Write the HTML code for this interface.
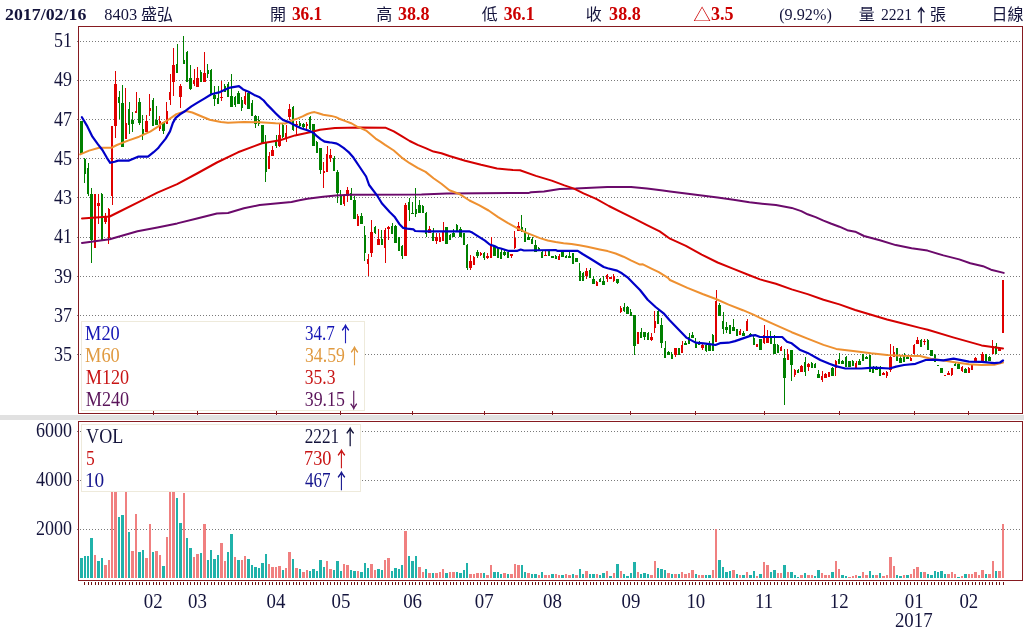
<!DOCTYPE html><html><head><meta charset="utf-8"><title>8403 盛弘 日線</title><style>html,body{margin:0;padding:0;background:#fff;}body{width:1024px;height:630px;overflow:hidden;position:relative;}svg{display:block;}text{font-family:"Liberation Serif","Noto Sans CJK TC",serif;}.cjk{font-family:"Liberation Serif","Noto Sans CJK TC",sans-serif;}</style></head><body>
<svg width="1024" height="630" viewBox="0 0 1024 630">
<rect x="0" y="0" width="1024" height="630" fill="#fff"/>
<rect x="0" y="415" width="1024" height="5" fill="#e1e1e1"/>
<g stroke="#7a7a7a" stroke-width="1" stroke-dasharray="1 2" shape-rendering="crispEdges"><line x1="77" y1="41.5" x2="1022" y2="41.5"/><line x1="77" y1="80.5" x2="1022" y2="80.5"/><line x1="77" y1="119.5" x2="1022" y2="119.5"/><line x1="77" y1="158.5" x2="1022" y2="158.5"/><line x1="77" y1="197.5" x2="1022" y2="197.5"/><line x1="77" y1="237.5" x2="1022" y2="237.5"/><line x1="77" y1="276.5" x2="1022" y2="276.5"/><line x1="77" y1="315.5" x2="1022" y2="315.5"/><line x1="77" y1="354.5" x2="1022" y2="354.5"/></g>
<g stroke="#7a7a7a" stroke-width="1" stroke-dasharray="1 2" shape-rendering="crispEdges"><line x1="77" y1="431.5" x2="1022" y2="431.5"/><line x1="77" y1="480.5" x2="1022" y2="480.5"/><line x1="77" y1="529.5" x2="1022" y2="529.5"/></g>
<g shape-rendering="crispEdges">
<g fill="#008000"><rect x="81" y="121" width="1" height="33"/><rect x="80" y="121" width="3" height="33"/><rect x="84" y="158" width="1" height="25"/><rect x="84" y="159" width="2" height="15"/><rect x="88" y="163" width="1" height="33"/><rect x="87" y="168" width="2" height="26"/><rect x="91" y="188" width="1" height="75"/><rect x="90" y="194" width="3" height="46"/><rect x="101" y="193" width="1" height="47"/><rect x="101" y="194" width="2" height="46"/><rect x="119" y="91" width="1" height="28"/><rect x="118" y="97" width="2" height="6"/><rect x="122" y="85" width="1" height="62"/><rect x="121" y="103" width="3" height="44"/><rect x="129" y="102" width="1" height="32"/><rect x="128" y="109" width="2" height="16"/><rect x="132" y="112" width="1" height="20"/><rect x="131" y="120" width="3" height="4"/><rect x="139" y="98" width="1" height="27"/><rect x="138" y="102" width="3" height="21"/><rect x="142" y="115" width="1" height="25"/><rect x="142" y="129" width="2" height="5"/><rect x="153" y="98" width="1" height="28"/><rect x="152" y="100" width="2" height="26"/><rect x="156" y="106" width="1" height="19"/><rect x="155" y="120" width="3" height="5"/><rect x="163" y="122" width="1" height="12"/><rect x="162" y="122" width="3" height="9"/><rect x="177" y="44" width="1" height="29"/><rect x="176" y="64" width="2" height="9"/><rect x="183" y="36" width="1" height="28"/><rect x="183" y="60" width="2" height="4"/><rect x="187" y="51" width="1" height="31"/><rect x="186" y="52" width="2" height="30"/><rect x="190" y="65" width="1" height="25"/><rect x="189" y="78" width="3" height="11"/><rect x="200" y="70" width="1" height="12"/><rect x="200" y="72" width="2" height="10"/><rect x="207" y="64" width="1" height="14"/><rect x="207" y="70" width="2" height="4"/><rect x="211" y="69" width="1" height="25"/><rect x="210" y="70" width="2" height="24"/><rect x="214" y="86" width="1" height="20"/><rect x="213" y="95" width="3" height="4"/><rect x="218" y="86" width="1" height="18"/><rect x="217" y="98" width="2" height="6"/><rect x="224" y="84" width="1" height="8"/><rect x="224" y="86" width="2" height="6"/><rect x="228" y="82" width="1" height="15"/><rect x="227" y="84" width="2" height="13"/><rect x="231" y="74" width="1" height="33"/><rect x="230" y="96" width="3" height="11"/><rect x="235" y="96" width="1" height="11"/><rect x="234" y="97" width="2" height="8"/><rect x="238" y="91" width="1" height="13"/><rect x="237" y="93" width="3" height="11"/><rect x="241" y="97" width="1" height="14"/><rect x="241" y="100" width="2" height="8"/><rect x="248" y="92" width="1" height="17"/><rect x="247" y="93" width="3" height="16"/><rect x="252" y="100" width="1" height="16"/><rect x="251" y="103" width="2" height="13"/><rect x="255" y="115" width="1" height="13"/><rect x="254" y="116" width="3" height="8"/><rect x="258" y="116" width="1" height="10"/><rect x="258" y="120" width="2" height="4"/><rect x="262" y="125" width="1" height="18"/><rect x="261" y="125" width="3" height="18"/><rect x="265" y="135" width="1" height="47"/><rect x="265" y="142" width="2" height="30"/><rect x="276" y="135" width="1" height="13"/><rect x="275" y="140" width="2" height="6"/><rect x="282" y="123" width="1" height="15"/><rect x="282" y="125" width="2" height="12"/><rect x="293" y="106" width="1" height="25"/><rect x="292" y="107" width="2" height="23"/><rect x="299" y="121" width="1" height="6"/><rect x="299" y="123" width="2" height="3"/><rect x="303" y="123" width="1" height="7"/><rect x="302" y="124" width="3" height="3"/><rect x="310" y="116" width="1" height="14"/><rect x="309" y="117" width="2" height="12"/><rect x="313" y="124" width="1" height="22"/><rect x="312" y="124" width="3" height="22"/><rect x="316" y="141" width="1" height="12"/><rect x="316" y="142" width="2" height="11"/><rect x="320" y="148" width="1" height="26"/><rect x="319" y="148" width="3" height="22"/><rect x="334" y="156" width="1" height="15"/><rect x="333" y="158" width="2" height="13"/><rect x="337" y="170" width="1" height="33"/><rect x="336" y="172" width="3" height="21"/><rect x="340" y="190" width="1" height="15"/><rect x="340" y="195" width="2" height="10"/><rect x="351" y="188" width="1" height="12"/><rect x="350" y="193" width="2" height="7"/><rect x="354" y="196" width="1" height="23"/><rect x="353" y="200" width="3" height="19"/><rect x="361" y="213" width="1" height="11"/><rect x="360" y="216" width="3" height="8"/><rect x="364" y="226" width="1" height="35"/><rect x="364" y="235" width="2" height="18"/><rect x="375" y="226" width="1" height="8"/><rect x="374" y="227" width="2" height="6"/><rect x="381" y="230" width="1" height="15"/><rect x="381" y="239" width="2" height="6"/><rect x="392" y="223" width="1" height="11"/><rect x="391" y="226" width="2" height="8"/><rect x="395" y="225" width="1" height="18"/><rect x="394" y="226" width="3" height="17"/><rect x="398" y="237" width="1" height="14"/><rect x="398" y="237" width="2" height="14"/><rect x="402" y="245" width="1" height="14"/><rect x="401" y="246" width="2" height="10"/><rect x="409" y="198" width="1" height="23"/><rect x="408" y="202" width="2" height="8"/><rect x="412" y="202" width="1" height="12"/><rect x="411" y="213" width="3" height="1"/><rect x="415" y="188" width="1" height="29"/><rect x="415" y="209" width="2" height="5"/><rect x="419" y="200" width="1" height="13"/><rect x="418" y="205" width="3" height="8"/><rect x="422" y="205" width="1" height="8"/><rect x="422" y="206" width="2" height="7"/><rect x="426" y="212" width="1" height="25"/><rect x="425" y="213" width="2" height="21"/><rect x="433" y="228" width="1" height="13"/><rect x="432" y="233" width="2" height="8"/><rect x="446" y="227" width="1" height="17"/><rect x="445" y="227" width="3" height="17"/><rect x="450" y="234" width="1" height="6"/><rect x="449" y="235" width="2" height="5"/><rect x="453" y="229" width="1" height="8"/><rect x="452" y="233" width="3" height="4"/><rect x="456" y="224" width="1" height="7"/><rect x="456" y="225" width="2" height="6"/><rect x="460" y="227" width="1" height="10"/><rect x="459" y="229" width="3" height="8"/><rect x="463" y="233" width="1" height="12"/><rect x="463" y="233" width="2" height="12"/><rect x="467" y="244" width="1" height="26"/><rect x="466" y="245" width="2" height="23"/><rect x="477" y="250" width="1" height="8"/><rect x="476" y="252" width="3" height="4"/><rect x="484" y="252" width="1" height="8"/><rect x="483" y="253" width="2" height="5"/><rect x="494" y="246" width="1" height="10"/><rect x="493" y="247" width="3" height="9"/><rect x="497" y="248" width="1" height="10"/><rect x="497" y="249" width="2" height="9"/><rect x="501" y="249" width="1" height="10"/><rect x="500" y="252" width="2" height="7"/><rect x="504" y="250" width="1" height="6"/><rect x="503" y="252" width="3" height="3"/><rect x="508" y="252" width="1" height="6"/><rect x="507" y="252" width="2" height="6"/><rect x="521" y="215" width="1" height="17"/><rect x="521" y="227" width="2" height="5"/><rect x="525" y="228" width="1" height="14"/><rect x="524" y="232" width="2" height="10"/><rect x="528" y="234" width="1" height="6"/><rect x="527" y="237" width="3" height="3"/><rect x="532" y="237" width="1" height="7"/><rect x="531" y="239" width="2" height="5"/><rect x="535" y="240" width="1" height="12"/><rect x="534" y="245" width="3" height="7"/><rect x="538" y="247" width="1" height="4"/><rect x="538" y="248" width="2" height="3"/><rect x="542" y="251" width="1" height="7"/><rect x="541" y="252" width="2" height="6"/><rect x="549" y="250" width="1" height="6"/><rect x="548" y="251" width="2" height="5"/><rect x="552" y="256" width="1" height="2"/><rect x="551" y="256" width="3" height="2"/><rect x="555" y="255" width="1" height="4"/><rect x="555" y="256" width="2" height="3"/><rect x="562" y="252" width="1" height="5"/><rect x="561" y="252" width="3" height="5"/><rect x="566" y="255" width="1" height="3"/><rect x="565" y="256" width="2" height="2"/><rect x="569" y="252" width="1" height="6"/><rect x="568" y="256" width="3" height="2"/><rect x="572" y="253" width="1" height="11"/><rect x="572" y="253" width="2" height="11"/><rect x="576" y="258" width="1" height="4"/><rect x="575" y="258" width="3" height="4"/><rect x="579" y="263" width="1" height="18"/><rect x="579" y="271" width="2" height="10"/><rect x="583" y="272" width="1" height="9"/><rect x="582" y="273" width="2" height="8"/><rect x="590" y="268" width="1" height="10"/><rect x="589" y="270" width="2" height="8"/><rect x="593" y="276" width="1" height="8"/><rect x="592" y="279" width="3" height="5"/><rect x="600" y="278" width="1" height="4"/><rect x="599" y="279" width="2" height="3"/><rect x="603" y="276" width="1" height="9"/><rect x="602" y="281" width="3" height="4"/><rect x="617" y="279" width="1" height="5"/><rect x="616" y="279" width="3" height="4"/><rect x="624" y="303" width="1" height="9"/><rect x="623" y="307" width="2" height="4"/><rect x="627" y="306" width="1" height="8"/><rect x="626" y="307" width="3" height="7"/><rect x="630" y="309" width="1" height="7"/><rect x="630" y="312" width="2" height="4"/><rect x="634" y="315" width="1" height="40"/><rect x="633" y="315" width="3" height="31"/><rect x="641" y="328" width="1" height="10"/><rect x="640" y="332" width="2" height="6"/><rect x="644" y="332" width="1" height="8"/><rect x="643" y="332" width="3" height="5"/><rect x="648" y="332" width="1" height="8"/><rect x="647" y="333" width="2" height="7"/><rect x="658" y="310" width="1" height="14"/><rect x="657" y="311" width="2" height="13"/><rect x="661" y="318" width="1" height="30"/><rect x="660" y="325" width="3" height="18"/><rect x="665" y="341" width="1" height="17"/><rect x="664" y="348" width="2" height="10"/><rect x="668" y="351" width="1" height="4"/><rect x="667" y="352" width="3" height="3"/><rect x="671" y="352" width="1" height="7"/><rect x="671" y="354" width="2" height="5"/><rect x="678" y="348" width="1" height="7"/><rect x="678" y="348" width="2" height="7"/><rect x="685" y="341" width="1" height="4"/><rect x="684" y="343" width="3" height="2"/><rect x="689" y="333" width="1" height="11"/><rect x="688" y="337" width="2" height="7"/><rect x="692" y="332" width="1" height="6"/><rect x="691" y="335" width="3" height="3"/><rect x="695" y="338" width="1" height="10"/><rect x="695" y="342" width="2" height="6"/><rect x="699" y="341" width="1" height="4"/><rect x="698" y="343" width="2" height="2"/><rect x="706" y="344" width="1" height="8"/><rect x="705" y="345" width="2" height="6"/><rect x="709" y="341" width="1" height="10"/><rect x="708" y="345" width="3" height="6"/><rect x="712" y="334" width="1" height="17"/><rect x="712" y="335" width="2" height="16"/><rect x="719" y="303" width="1" height="13"/><rect x="718" y="305" width="3" height="11"/><rect x="723" y="312" width="1" height="22"/><rect x="722" y="321" width="2" height="8"/><rect x="726" y="322" width="1" height="11"/><rect x="725" y="327" width="3" height="3"/><rect x="729" y="325" width="1" height="9"/><rect x="729" y="325" width="2" height="9"/><rect x="733" y="319" width="1" height="12"/><rect x="732" y="327" width="3" height="4"/><rect x="736" y="329" width="1" height="7"/><rect x="736" y="329" width="2" height="7"/><rect x="743" y="331" width="1" height="5"/><rect x="742" y="333" width="3" height="3"/><rect x="750" y="333" width="1" height="3"/><rect x="749" y="334" width="3" height="2"/><rect x="753" y="336" width="1" height="9"/><rect x="753" y="338" width="2" height="7"/><rect x="760" y="339" width="1" height="11"/><rect x="759" y="339" width="3" height="11"/><rect x="770" y="331" width="1" height="13"/><rect x="770" y="336" width="2" height="8"/><rect x="774" y="335" width="1" height="19"/><rect x="773" y="344" width="3" height="10"/><rect x="777" y="344" width="1" height="9"/><rect x="777" y="345" width="2" height="8"/><rect x="784" y="349" width="1" height="56"/><rect x="783" y="358" width="3" height="20"/><rect x="791" y="350" width="1" height="31"/><rect x="790" y="350" width="3" height="15"/><rect x="798" y="369" width="1" height="4"/><rect x="797" y="370" width="2" height="3"/><rect x="805" y="357" width="1" height="19"/><rect x="804" y="362" width="2" height="10"/><rect x="811" y="362" width="1" height="6"/><rect x="811" y="363" width="2" height="5"/><rect x="815" y="363" width="1" height="5"/><rect x="814" y="364" width="2" height="4"/><rect x="818" y="370" width="1" height="8"/><rect x="817" y="374" width="3" height="4"/><rect x="832" y="367" width="1" height="9"/><rect x="831" y="368" width="3" height="8"/><rect x="839" y="353" width="1" height="11"/><rect x="838" y="359" width="2" height="5"/><rect x="842" y="360" width="1" height="4"/><rect x="841" y="361" width="3" height="3"/><rect x="846" y="356" width="1" height="11"/><rect x="845" y="357" width="2" height="10"/><rect x="849" y="361" width="1" height="6"/><rect x="848" y="361" width="3" height="6"/><rect x="852" y="360" width="1" height="6"/><rect x="852" y="361" width="2" height="5"/><rect x="859" y="359" width="1" height="6"/><rect x="858" y="361" width="3" height="4"/><rect x="863" y="354" width="1" height="7"/><rect x="862" y="354" width="2" height="7"/><rect x="866" y="356" width="1" height="3"/><rect x="865" y="357" width="3" height="2"/><rect x="869" y="355" width="1" height="17"/><rect x="869" y="355" width="2" height="17"/><rect x="873" y="366" width="1" height="7"/><rect x="872" y="368" width="2" height="5"/><rect x="876" y="366" width="1" height="4"/><rect x="875" y="368" width="3" height="2"/><rect x="880" y="366" width="1" height="10"/><rect x="879" y="367" width="2" height="9"/><rect x="897" y="348" width="1" height="13"/><rect x="896" y="348" width="2" height="13"/><rect x="900" y="355" width="1" height="8"/><rect x="899" y="358" width="3" height="5"/><rect x="904" y="353" width="1" height="9"/><rect x="903" y="356" width="2" height="6"/><rect x="907" y="355" width="1" height="4"/><rect x="906" y="357" width="3" height="2"/><rect x="921" y="339" width="1" height="8"/><rect x="920" y="340" width="2" height="7"/><rect x="927" y="339" width="1" height="11"/><rect x="927" y="340" width="2" height="10"/><rect x="931" y="350" width="1" height="6"/><rect x="930" y="350" width="3" height="6"/><rect x="934" y="354" width="1" height="8"/><rect x="934" y="355" width="2" height="7"/><rect x="938" y="365" width="1" height="1"/><rect x="937" y="365" width="2" height="1"/><rect x="941" y="368" width="1" height="5"/><rect x="940" y="368" width="3" height="5"/><rect x="955" y="363" width="1" height="3"/><rect x="954" y="364" width="2" height="2"/><rect x="958" y="363" width="1" height="6"/><rect x="957" y="364" width="3" height="5"/><rect x="965" y="368" width="1" height="5"/><rect x="964" y="369" width="3" height="4"/><rect x="985" y="354" width="1" height="8"/><rect x="985" y="354" width="2" height="8"/><rect x="989" y="356" width="1" height="5"/><rect x="988" y="357" width="3" height="4"/><rect x="996" y="343" width="1" height="11"/><rect x="995" y="346" width="2" height="8"/></g>
<g fill="#e00000"><rect x="95" y="194" width="1" height="54"/><rect x="94" y="194" width="2" height="54"/><rect x="98" y="194" width="1" height="30"/><rect x="97" y="203" width="3" height="3"/><rect x="105" y="213" width="1" height="11"/><rect x="104" y="217" width="3" height="5"/><rect x="108" y="208" width="1" height="36"/><rect x="108" y="209" width="2" height="29"/><rect x="112" y="126" width="1" height="79"/><rect x="111" y="126" width="2" height="70"/><rect x="115" y="71" width="1" height="67"/><rect x="114" y="84" width="3" height="42"/><rect x="125" y="88" width="1" height="51"/><rect x="125" y="123" width="2" height="16"/><rect x="136" y="92" width="1" height="21"/><rect x="135" y="111" width="2" height="2"/><rect x="146" y="115" width="1" height="17"/><rect x="145" y="121" width="3" height="11"/><rect x="149" y="94" width="1" height="22"/><rect x="149" y="108" width="2" height="3"/><rect x="159" y="116" width="1" height="15"/><rect x="159" y="121" width="2" height="8"/><rect x="166" y="102" width="1" height="22"/><rect x="166" y="111" width="2" height="13"/><rect x="170" y="74" width="1" height="31"/><rect x="169" y="92" width="2" height="8"/><rect x="173" y="48" width="1" height="48"/><rect x="172" y="65" width="3" height="17"/><rect x="180" y="84" width="1" height="24"/><rect x="179" y="86" width="3" height="11"/><rect x="194" y="69" width="1" height="17"/><rect x="193" y="80" width="2" height="4"/><rect x="197" y="67" width="1" height="20"/><rect x="196" y="78" width="3" height="9"/><rect x="204" y="52" width="1" height="30"/><rect x="203" y="73" width="3" height="9"/><rect x="221" y="81" width="1" height="20"/><rect x="220" y="97" width="3" height="1"/><rect x="245" y="91" width="1" height="14"/><rect x="244" y="96" width="2" height="8"/><rect x="269" y="152" width="1" height="17"/><rect x="268" y="156" width="2" height="13"/><rect x="272" y="146" width="1" height="10"/><rect x="271" y="150" width="3" height="6"/><rect x="279" y="124" width="1" height="23"/><rect x="278" y="135" width="3" height="11"/><rect x="286" y="125" width="1" height="17"/><rect x="285" y="133" width="2" height="6"/><rect x="289" y="104" width="1" height="16"/><rect x="288" y="109" width="3" height="8"/><rect x="296" y="121" width="1" height="14"/><rect x="295" y="124" width="3" height="1"/><rect x="306" y="122" width="1" height="8"/><rect x="306" y="124" width="2" height="2"/><rect x="323" y="162" width="1" height="26"/><rect x="323" y="171" width="2" height="2"/><rect x="327" y="146" width="1" height="26"/><rect x="326" y="154" width="2" height="18"/><rect x="330" y="149" width="1" height="13"/><rect x="329" y="155" width="3" height="3"/><rect x="344" y="194" width="1" height="12"/><rect x="343" y="196" width="2" height="8"/><rect x="347" y="187" width="1" height="15"/><rect x="346" y="190" width="3" height="6"/><rect x="357" y="214" width="1" height="12"/><rect x="357" y="216" width="2" height="10"/><rect x="368" y="254" width="1" height="22"/><rect x="367" y="259" width="2" height="5"/><rect x="371" y="220" width="1" height="37"/><rect x="370" y="232" width="3" height="21"/><rect x="378" y="229" width="1" height="16"/><rect x="377" y="239" width="3" height="6"/><rect x="385" y="228" width="1" height="35"/><rect x="384" y="230" width="2" height="18"/><rect x="388" y="226" width="1" height="14"/><rect x="387" y="227" width="3" height="2"/><rect x="405" y="203" width="1" height="53"/><rect x="404" y="205" width="3" height="51"/><rect x="429" y="226" width="1" height="7"/><rect x="428" y="229" width="3" height="4"/><rect x="436" y="233" width="1" height="11"/><rect x="435" y="237" width="3" height="4"/><rect x="439" y="233" width="1" height="9"/><rect x="439" y="237" width="2" height="5"/><rect x="443" y="222" width="1" height="19"/><rect x="442" y="232" width="2" height="9"/><rect x="470" y="255" width="1" height="15"/><rect x="469" y="261" width="3" height="7"/><rect x="473" y="256" width="1" height="9"/><rect x="473" y="257" width="2" height="8"/><rect x="480" y="252" width="1" height="4"/><rect x="480" y="253" width="2" height="2"/><rect x="487" y="253" width="1" height="6"/><rect x="486" y="256" width="3" height="2"/><rect x="491" y="237" width="1" height="21"/><rect x="490" y="245" width="2" height="13"/><rect x="511" y="254" width="1" height="4"/><rect x="510" y="254" width="3" height="2"/><rect x="514" y="231" width="1" height="18"/><rect x="514" y="238" width="2" height="10"/><rect x="518" y="222" width="1" height="9"/><rect x="517" y="226" width="3" height="5"/><rect x="545" y="251" width="1" height="5"/><rect x="544" y="255" width="3" height="1"/><rect x="559" y="254" width="1" height="6"/><rect x="558" y="256" width="2" height="4"/><rect x="586" y="268" width="1" height="11"/><rect x="585" y="271" width="3" height="5"/><rect x="596" y="281" width="1" height="5"/><rect x="596" y="282" width="2" height="4"/><rect x="607" y="274" width="1" height="8"/><rect x="606" y="275" width="2" height="4"/><rect x="610" y="277" width="1" height="2"/><rect x="609" y="277" width="3" height="2"/><rect x="613" y="274" width="1" height="8"/><rect x="613" y="276" width="2" height="5"/><rect x="620" y="306" width="1" height="7"/><rect x="620" y="308" width="2" height="4"/><rect x="637" y="332" width="1" height="12"/><rect x="637" y="332" width="2" height="12"/><rect x="651" y="333" width="1" height="8"/><rect x="650" y="337" width="3" height="3"/><rect x="654" y="311" width="1" height="22"/><rect x="654" y="321" width="2" height="7"/><rect x="675" y="348" width="1" height="9"/><rect x="674" y="348" width="3" height="7"/><rect x="682" y="341" width="1" height="12"/><rect x="681" y="345" width="2" height="8"/><rect x="702" y="343" width="1" height="7"/><rect x="701" y="345" width="3" height="3"/><rect x="716" y="290" width="1" height="52"/><rect x="715" y="301" width="2" height="41"/><rect x="740" y="329" width="1" height="6"/><rect x="739" y="331" width="2" height="4"/><rect x="747" y="319" width="1" height="12"/><rect x="746" y="321" width="2" height="10"/><rect x="757" y="344" width="1" height="3"/><rect x="756" y="344" width="2" height="3"/><rect x="764" y="325" width="1" height="19"/><rect x="763" y="335" width="2" height="8"/><rect x="767" y="330" width="1" height="13"/><rect x="766" y="337" width="3" height="6"/><rect x="781" y="346" width="1" height="5"/><rect x="780" y="347" width="2" height="4"/><rect x="787" y="349" width="1" height="11"/><rect x="787" y="354" width="2" height="6"/><rect x="794" y="369" width="1" height="8"/><rect x="794" y="370" width="2" height="5"/><rect x="801" y="365" width="1" height="7"/><rect x="800" y="366" width="3" height="6"/><rect x="808" y="363" width="1" height="8"/><rect x="807" y="364" width="3" height="3"/><rect x="822" y="371" width="1" height="11"/><rect x="821" y="376" width="2" height="4"/><rect x="825" y="373" width="1" height="5"/><rect x="824" y="374" width="3" height="4"/><rect x="828" y="372" width="1" height="5"/><rect x="828" y="372" width="2" height="5"/><rect x="835" y="360" width="1" height="16"/><rect x="835" y="361" width="2" height="7"/><rect x="856" y="361" width="1" height="7"/><rect x="855" y="363" width="2" height="5"/><rect x="883" y="372" width="1" height="3"/><rect x="882" y="373" width="3" height="2"/><rect x="886" y="371" width="1" height="7"/><rect x="886" y="372" width="2" height="4"/><rect x="890" y="344" width="1" height="28"/><rect x="889" y="357" width="3" height="13"/><rect x="893" y="346" width="1" height="11"/><rect x="893" y="352" width="2" height="5"/><rect x="910" y="357" width="1" height="4"/><rect x="910" y="358" width="2" height="3"/><rect x="914" y="344" width="1" height="10"/><rect x="913" y="345" width="2" height="9"/><rect x="917" y="337" width="1" height="7"/><rect x="916" y="340" width="3" height="4"/><rect x="924" y="339" width="1" height="6"/><rect x="923" y="341" width="3" height="1"/><rect x="944" y="375" width="1" height="1"/><rect x="944" y="375" width="2" height="1"/><rect x="948" y="371" width="1" height="4"/><rect x="947" y="373" width="3" height="2"/><rect x="951" y="368" width="1" height="8"/><rect x="951" y="368" width="2" height="7"/><rect x="962" y="366" width="1" height="6"/><rect x="961" y="367" width="2" height="4"/><rect x="968" y="367" width="1" height="6"/><rect x="968" y="368" width="2" height="5"/><rect x="972" y="364" width="1" height="6"/><rect x="971" y="365" width="2" height="5"/><rect x="975" y="357" width="1" height="5"/><rect x="974" y="358" width="3" height="4"/><rect x="979" y="361" width="1" height="2"/><rect x="978" y="361" width="2" height="2"/><rect x="982" y="352" width="1" height="10"/><rect x="981" y="354" width="3" height="8"/><rect x="992" y="340" width="1" height="14"/><rect x="992" y="346" width="2" height="8"/><rect x="999" y="347" width="1" height="4"/><rect x="998" y="348" width="3" height="3"/><rect x="1003" y="280" width="1" height="53"/><rect x="1002" y="280" width="2" height="53"/></g>
</g>
<polyline points="82.0,242.9 109.7,239.3 137.5,231.3 157.4,227.4 177.2,223.4 197.0,218.5 216.9,213.5 228.0,213.0 243.9,208.3 259.7,205.1 275.6,203.5 291.5,201.9 299.4,200.3 307.4,198.7 323.2,196.8 335.9,195.6 350.0,194.7 421.5,194.5 446.9,193.4 529.0,192.9 531.0,192.2 544.0,191.6 559.7,188.9 575.6,188.6 591.4,187.8 607.3,187.0 631.1,187.0 647.0,188.6 662.9,190.5 670.0,191.4 685.9,193.5 701.7,195.4 717.6,197.5 733.5,199.8 749.4,202.2 760.0,203.5 775.9,205.1 791.7,207.9 801.3,211.1 807.6,214.3 815.6,217.1 823.5,220.6 831.4,223.8 839.4,226.7 847.3,230.2 855.2,231.7 864.0,236.0 879.9,240.3 895.7,245.1 911.6,248.3 927.5,250.6 943.4,255.4 959.2,259.4 970.3,263.3 983.0,266.2 991.0,269.7 1003.7,272.9" fill="none" stroke="#6b0a6b" stroke-width="2" stroke-linejoin="round" stroke-linecap="round"/>
<polyline points="82.0,218.5 109.7,216.5 117.7,212.5 137.5,202.6 157.4,192.7 177.2,184.2 197.0,173.5 216.9,162.5 238.0,152.3 262.0,143.2 280.0,140.2 295.0,135.4 310.0,132.2 320.0,129.8 335.0,127.9 360.0,127.5 385.9,127.8 393.8,131.4 401.7,136.2 409.7,141.0 417.6,144.9 425.6,148.1 433.5,151.6 441.4,153.2 449.4,156.0 465.2,160.8 481.1,164.8 497.0,168.4 512.9,170.0 520.0,170.3 535.9,175.9 551.7,180.6 564.4,185.4 574.0,188.6 583.5,193.3 596.2,198.9 608.9,206.0 621.6,212.4 634.3,218.7 647.0,225.1 659.7,231.4 670.0,238.7 685.9,245.9 701.7,254.6 717.6,262.5 733.5,268.9 749.4,275.2 760.0,279.4 775.9,283.8 791.7,289.4 807.6,294.1 823.5,299.7 839.4,304.4 855.2,310.0 871.1,314.8 887.0,319.5 902.9,323.5 920.0,327.9 927.8,329.8 953.1,337.4 981.6,345.4 990.4,346.7 1003.0,348.4" fill="none" stroke="#d40000" stroke-width="2" stroke-linejoin="round" stroke-linecap="round"/>
<polyline points="80.2,154.4 89.1,150.6 99.1,147.8 111.3,147.8 116.9,145.0 128.0,140.6 139.1,136.7 150.2,131.7 158.0,126.7 160.5,124.3 168.0,120.0 176.4,114.1 185.9,111.0 192.3,112.5 201.8,116.5 209.7,119.7 220.9,122.0 228.0,122.7 243.9,121.9 259.7,122.2 275.6,123.2 285.1,123.5 288.3,122.2 293.1,120.0 297.8,118.4 302.6,116.3 307.4,114.0 312.1,112.4 314.5,112.1 318.5,113.2 323.2,114.8 331.2,115.9 335.9,117.1 339.1,118.7 345.5,121.1 351.8,123.5 356.6,126.3 361.3,128.3 366.1,130.6 370.9,134.6 375.6,138.6 380.4,141.7 385.1,144.9 393.8,150.5 401.7,157.6 409.7,163.2 417.6,167.9 425.6,171.9 433.5,178.3 441.4,183.8 449.4,190.2 460.0,194.3 469.5,200.5 479.0,205.2 488.6,210.5 498.1,217.1 507.6,222.9 517.1,228.1 526.7,232.9 540.0,238.1 547.7,240.5 555.6,242.1 563.6,243.2 571.5,244.1 579.4,245.2 587.4,246.8 599.7,249.5 607.6,251.1 615.6,253.5 623.5,256.7 631.4,260.6 640.0,264.6 642.9,264.3 650.9,268.3 658.8,272.2 668.0,277.8 669.9,280.0 687.4,287.9 703.2,294.3 715.9,299.0 728.6,304.6 742.9,310.2 754.0,314.9 760.0,317.9 775.9,325.1 791.7,332.2 807.6,338.6 823.5,344.9 836.2,348.9 855.2,351.3 871.1,353.3 887.0,354.9 902.9,355.7 920.0,356.0 930.8,358.7 943.5,360.6 956.2,362.5 968.9,364.2 981.6,365.1 994.3,364.7 1003.0,362.6" fill="none" stroke="#ee9030" stroke-width="2" stroke-linejoin="round" stroke-linecap="round"/>
<polyline points="81.9,117.2 86.9,125.6 92.4,136.7 98.0,144.4 102.4,150.0 106.9,157.8 110.2,162.8 114.7,161.7 118.0,160.6 129.1,160.6 138.0,156.7 148.0,156.7 153.6,152.2 158.0,148.3 160.0,145.7 165.7,138.6 170.0,131.4 172.9,122.9 175.7,117.9 180.0,114.3 185.7,110.7 191.4,106.4 197.1,102.9 204.3,98.6 211.4,94.3 220.0,92.1 228.8,87.9 239.0,86.2 243.1,89.4 248.6,91.7 254.2,94.9 259.7,97.3 263.7,100.5 266.9,104.4 270.9,108.4 275.6,113.2 280.4,117.9 283.6,120.3 287.5,121.6 291.5,123.5 296.3,125.9 301.0,128.3 305.8,129.8 310.5,131.4 313.7,133.0 316.9,136.2 320.9,139.4 324.8,141.7 329.6,142.4 331.2,142.5 335.9,143.3 337.5,144.0 339.1,144.9 343.9,148.1 345.5,149.5 348.6,152.1 353.4,157.5 353.4,157.6 359.7,167.0 366.1,176.5 369.1,185.0 377.0,195.3 381.8,203.3 389.7,212.0 394.5,216.7 399.3,223.9 403.2,227.9 407.2,228.7 413.6,229.4 415.1,231.0 424.7,231.3 469.1,231.3 472.3,232.6 478.6,236.6 485.0,240.6 489.7,244.5 494.5,246.1 497.7,247.7 500.9,248.5 508.0,250.8 517.5,250.8 520.7,249.5 523.9,250.5 555.6,250.0 557.2,250.8 577.8,250.8 582.6,254.0 590.5,258.7 596.9,262.7 603.7,267.0 607.6,268.2 617.1,270.6 621.9,273.3 627.5,277.3 633.8,283.7 640.0,290.0 647.7,299.8 655.6,307.0 663.6,313.3 669.4,320.0 678.1,328.9 686.8,337.9 695.6,342.6 703.5,343.3 709.8,344.2 715.4,345.0 720.0,343.2 728.6,342.7 735.0,341.1 744.5,337.9 750.9,335.6 755.6,335.2 760.0,337.0 782.2,337.0 787.0,341.7 791.7,343.3 799.7,349.7 807.6,352.9 820.3,360.0 829.4,363.7 835.8,366.1 845.3,368.5 861.2,368.5 873.9,367.7 889.7,368.5 896.1,366.6 904.0,365.0 915.5,363.8 925.7,360.0 933.3,359.6 943.5,360.4 953.6,358.7 958.7,359.6 968.9,361.6 981.6,361.9 994.3,363.2 1000.0,362.5 1003.0,360.5" fill="none" stroke="#0000c8" stroke-width="2.2" stroke-linejoin="round" stroke-linecap="round"/>
<g shape-rendering="crispEdges">
<g fill="#20b2aa"><rect x="80" y="558" width="3" height="20"/><rect x="84" y="556" width="2" height="22"/><rect x="87" y="556" width="2" height="22"/><rect x="90" y="538" width="3" height="40"/><rect x="97" y="561" width="3" height="17"/><rect x="101" y="558" width="2" height="20"/><rect x="118" y="517" width="2" height="61"/><rect x="121" y="515" width="3" height="63"/><rect x="128" y="532" width="2" height="46"/><rect x="138" y="552" width="3" height="26"/><rect x="142" y="550" width="2" height="28"/><rect x="152" y="552" width="2" height="26"/><rect x="162" y="566" width="3" height="12"/><rect x="176" y="498" width="2" height="80"/><rect x="179" y="523" width="3" height="55"/><rect x="186" y="538" width="2" height="40"/><rect x="189" y="548" width="3" height="30"/><rect x="200" y="553" width="2" height="25"/><rect x="207" y="560" width="2" height="18"/><rect x="210" y="550" width="2" height="28"/><rect x="213" y="559" width="3" height="19"/><rect x="217" y="555" width="2" height="23"/><rect x="227" y="552" width="2" height="26"/><rect x="230" y="534" width="3" height="44"/><rect x="237" y="560" width="3" height="18"/><rect x="247" y="559" width="3" height="19"/><rect x="251" y="565" width="2" height="13"/><rect x="254" y="567" width="3" height="11"/><rect x="258" y="568" width="2" height="10"/><rect x="261" y="563" width="3" height="15"/><rect x="265" y="554" width="2" height="24"/><rect x="282" y="570" width="2" height="8"/><rect x="292" y="559" width="2" height="19"/><rect x="299" y="569" width="2" height="9"/><rect x="309" y="571" width="2" height="7"/><rect x="312" y="569" width="3" height="9"/><rect x="316" y="571" width="2" height="7"/><rect x="319" y="560" width="3" height="18"/><rect x="323" y="567" width="2" height="11"/><rect x="333" y="570" width="2" height="8"/><rect x="336" y="561" width="3" height="17"/><rect x="340" y="571" width="2" height="7"/><rect x="350" y="570" width="2" height="8"/><rect x="353" y="571" width="3" height="7"/><rect x="360" y="572" width="3" height="6"/><rect x="364" y="563" width="2" height="15"/><rect x="367" y="568" width="2" height="10"/><rect x="377" y="569" width="3" height="9"/><rect x="381" y="570" width="2" height="8"/><rect x="391" y="571" width="2" height="7"/><rect x="394" y="568" width="3" height="10"/><rect x="398" y="569" width="2" height="9"/><rect x="401" y="565" width="2" height="13"/><rect x="408" y="556" width="2" height="22"/><rect x="411" y="561" width="3" height="17"/><rect x="415" y="556" width="2" height="22"/><rect x="425" y="569" width="2" height="9"/><rect x="432" y="573" width="2" height="5"/><rect x="445" y="573" width="3" height="5"/><rect x="456" y="572" width="2" height="6"/><rect x="459" y="573" width="3" height="5"/><rect x="463" y="570" width="2" height="8"/><rect x="466" y="563" width="2" height="15"/><rect x="483" y="573" width="2" height="5"/><rect x="493" y="572" width="3" height="6"/><rect x="497" y="572" width="2" height="6"/><rect x="500" y="574" width="2" height="4"/><rect x="507" y="574" width="2" height="4"/><rect x="521" y="565" width="2" height="13"/><rect x="524" y="572" width="2" height="6"/><rect x="531" y="574" width="2" height="4"/><rect x="534" y="574" width="3" height="4"/><rect x="541" y="572" width="2" height="6"/><rect x="551" y="574" width="3" height="4"/><rect x="561" y="575" width="3" height="3"/><rect x="572" y="574" width="2" height="4"/><rect x="579" y="569" width="2" height="9"/><rect x="582" y="574" width="2" height="4"/><rect x="589" y="574" width="2" height="4"/><rect x="592" y="574" width="3" height="4"/><rect x="599" y="575" width="2" height="3"/><rect x="602" y="573" width="3" height="5"/><rect x="609" y="576" width="3" height="2"/><rect x="616" y="564" width="3" height="14"/><rect x="623" y="574" width="2" height="4"/><rect x="626" y="576" width="3" height="2"/><rect x="630" y="573" width="2" height="5"/><rect x="633" y="562" width="3" height="16"/><rect x="640" y="574" width="2" height="4"/><rect x="643" y="573" width="3" height="5"/><rect x="647" y="574" width="2" height="4"/><rect x="657" y="568" width="2" height="10"/><rect x="660" y="569" width="3" height="9"/><rect x="664" y="570" width="2" height="8"/><rect x="671" y="574" width="2" height="4"/><rect x="678" y="574" width="2" height="4"/><rect x="695" y="574" width="2" height="4"/><rect x="705" y="575" width="2" height="3"/><rect x="708" y="575" width="3" height="3"/><rect x="718" y="560" width="3" height="18"/><rect x="722" y="567" width="2" height="11"/><rect x="725" y="572" width="3" height="6"/><rect x="729" y="571" width="2" height="7"/><rect x="736" y="574" width="2" height="4"/><rect x="742" y="575" width="3" height="3"/><rect x="749" y="575" width="3" height="3"/><rect x="753" y="571" width="2" height="7"/><rect x="759" y="574" width="3" height="4"/><rect x="770" y="572" width="2" height="6"/><rect x="773" y="570" width="3" height="8"/><rect x="783" y="565" width="3" height="13"/><rect x="790" y="572" width="3" height="6"/><rect x="794" y="575" width="2" height="3"/><rect x="797" y="577" width="2" height="1"/><rect x="804" y="573" width="2" height="5"/><rect x="814" y="576" width="2" height="2"/><rect x="817" y="570" width="3" height="8"/><rect x="831" y="572" width="3" height="6"/><rect x="841" y="575" width="3" height="3"/><rect x="845" y="576" width="2" height="2"/><rect x="858" y="576" width="3" height="2"/><rect x="869" y="571" width="2" height="7"/><rect x="872" y="575" width="2" height="3"/><rect x="879" y="573" width="2" height="5"/><rect x="896" y="575" width="2" height="3"/><rect x="899" y="576" width="3" height="2"/><rect x="906" y="575" width="3" height="3"/><rect x="920" y="572" width="2" height="6"/><rect x="927" y="574" width="2" height="4"/><rect x="930" y="575" width="3" height="3"/><rect x="934" y="571" width="2" height="7"/><rect x="937" y="572" width="2" height="6"/><rect x="940" y="571" width="3" height="7"/><rect x="944" y="574" width="2" height="4"/><rect x="957" y="577" width="3" height="1"/><rect x="964" y="574" width="3" height="4"/><rect x="985" y="574" width="2" height="4"/><rect x="995" y="571" width="2" height="7"/></g>
<g fill="#f08080"><rect x="94" y="555" width="2" height="23"/><rect x="104" y="565" width="3" height="13"/><rect x="108" y="560" width="2" height="18"/><rect x="111" y="480" width="2" height="98"/><rect x="114" y="480" width="3" height="98"/><rect x="125" y="480" width="2" height="98"/><rect x="131" y="551" width="3" height="27"/><rect x="135" y="514" width="2" height="64"/><rect x="145" y="558" width="3" height="20"/><rect x="149" y="524" width="2" height="54"/><rect x="155" y="551" width="3" height="27"/><rect x="159" y="555" width="2" height="23"/><rect x="166" y="537" width="2" height="41"/><rect x="169" y="480" width="2" height="98"/><rect x="172" y="480" width="3" height="98"/><rect x="183" y="493" width="2" height="85"/><rect x="193" y="557" width="2" height="21"/><rect x="196" y="554" width="3" height="24"/><rect x="203" y="524" width="3" height="54"/><rect x="220" y="543" width="3" height="35"/><rect x="224" y="561" width="2" height="17"/><rect x="234" y="557" width="2" height="21"/><rect x="241" y="560" width="2" height="18"/><rect x="244" y="556" width="2" height="22"/><rect x="268" y="564" width="2" height="14"/><rect x="271" y="567" width="3" height="11"/><rect x="275" y="567" width="2" height="11"/><rect x="278" y="566" width="3" height="12"/><rect x="285" y="568" width="2" height="10"/><rect x="288" y="552" width="3" height="26"/><rect x="295" y="568" width="3" height="10"/><rect x="302" y="572" width="3" height="6"/><rect x="306" y="570" width="2" height="8"/><rect x="326" y="561" width="2" height="17"/><rect x="329" y="569" width="3" height="9"/><rect x="343" y="564" width="2" height="14"/><rect x="346" y="565" width="3" height="13"/><rect x="357" y="571" width="2" height="7"/><rect x="370" y="564" width="3" height="14"/><rect x="374" y="570" width="2" height="8"/><rect x="384" y="560" width="2" height="18"/><rect x="387" y="558" width="3" height="20"/><rect x="404" y="531" width="3" height="47"/><rect x="418" y="567" width="3" height="11"/><rect x="422" y="572" width="2" height="6"/><rect x="428" y="573" width="3" height="5"/><rect x="435" y="573" width="3" height="5"/><rect x="439" y="572" width="2" height="6"/><rect x="442" y="569" width="2" height="9"/><rect x="449" y="572" width="2" height="6"/><rect x="452" y="572" width="3" height="6"/><rect x="469" y="574" width="3" height="4"/><rect x="473" y="574" width="2" height="4"/><rect x="476" y="573" width="3" height="5"/><rect x="480" y="573" width="2" height="5"/><rect x="486" y="575" width="3" height="3"/><rect x="490" y="565" width="2" height="13"/><rect x="503" y="573" width="3" height="5"/><rect x="510" y="574" width="3" height="4"/><rect x="514" y="564" width="2" height="14"/><rect x="517" y="565" width="3" height="13"/><rect x="527" y="573" width="3" height="5"/><rect x="538" y="575" width="2" height="3"/><rect x="544" y="575" width="3" height="3"/><rect x="548" y="575" width="2" height="3"/><rect x="555" y="574" width="2" height="4"/><rect x="558" y="575" width="2" height="3"/><rect x="565" y="574" width="2" height="4"/><rect x="568" y="575" width="3" height="3"/><rect x="575" y="575" width="3" height="3"/><rect x="585" y="571" width="3" height="7"/><rect x="596" y="574" width="2" height="4"/><rect x="606" y="571" width="2" height="7"/><rect x="613" y="573" width="2" height="5"/><rect x="620" y="571" width="2" height="7"/><rect x="637" y="572" width="2" height="6"/><rect x="650" y="575" width="3" height="3"/><rect x="654" y="561" width="2" height="17"/><rect x="667" y="573" width="3" height="5"/><rect x="674" y="574" width="3" height="4"/><rect x="681" y="572" width="2" height="6"/><rect x="684" y="574" width="3" height="4"/><rect x="688" y="573" width="2" height="5"/><rect x="691" y="570" width="3" height="8"/><rect x="698" y="575" width="2" height="3"/><rect x="701" y="575" width="3" height="3"/><rect x="712" y="570" width="2" height="8"/><rect x="715" y="529" width="2" height="49"/><rect x="732" y="570" width="3" height="8"/><rect x="739" y="575" width="2" height="3"/><rect x="746" y="572" width="2" height="6"/><rect x="756" y="576" width="2" height="2"/><rect x="763" y="562" width="2" height="16"/><rect x="766" y="565" width="3" height="13"/><rect x="777" y="573" width="2" height="5"/><rect x="780" y="573" width="2" height="5"/><rect x="787" y="572" width="2" height="6"/><rect x="800" y="575" width="3" height="3"/><rect x="807" y="575" width="3" height="3"/><rect x="811" y="575" width="2" height="3"/><rect x="821" y="573" width="2" height="5"/><rect x="824" y="575" width="3" height="3"/><rect x="828" y="575" width="2" height="3"/><rect x="835" y="561" width="2" height="17"/><rect x="838" y="569" width="2" height="9"/><rect x="848" y="577" width="3" height="1"/><rect x="852" y="576" width="2" height="2"/><rect x="855" y="575" width="2" height="3"/><rect x="862" y="572" width="2" height="6"/><rect x="865" y="575" width="3" height="3"/><rect x="875" y="575" width="3" height="3"/><rect x="882" y="576" width="3" height="2"/><rect x="886" y="575" width="2" height="3"/><rect x="889" y="557" width="3" height="21"/><rect x="893" y="566" width="2" height="12"/><rect x="903" y="575" width="2" height="3"/><rect x="910" y="574" width="2" height="4"/><rect x="913" y="569" width="2" height="9"/><rect x="916" y="567" width="3" height="11"/><rect x="923" y="572" width="3" height="6"/><rect x="947" y="574" width="3" height="4"/><rect x="951" y="572" width="2" height="6"/><rect x="954" y="574" width="2" height="4"/><rect x="961" y="576" width="2" height="2"/><rect x="968" y="574" width="2" height="4"/><rect x="971" y="574" width="2" height="4"/><rect x="974" y="572" width="3" height="6"/><rect x="978" y="575" width="2" height="3"/><rect x="981" y="570" width="3" height="8"/><rect x="988" y="574" width="3" height="4"/><rect x="992" y="561" width="2" height="17"/><rect x="998" y="571" width="3" height="7"/><rect x="1002" y="524" width="2" height="54"/></g>
<g fill="#6e1010"><rect x="84" y="582" width="1" height="3"/><rect x="88" y="582" width="1" height="3"/><rect x="91" y="582" width="1" height="3"/><rect x="95" y="582" width="1" height="3"/><rect x="98" y="582" width="1" height="3"/><rect x="101" y="582" width="1" height="3"/><rect x="105" y="582" width="1" height="3"/><rect x="108" y="582" width="1" height="3"/><rect x="112" y="582" width="1" height="3"/><rect x="115" y="582" width="1" height="3"/><rect x="119" y="582" width="1" height="3"/><rect x="122" y="582" width="1" height="3"/><rect x="125" y="582" width="1" height="3"/><rect x="129" y="582" width="1" height="3"/><rect x="132" y="582" width="1" height="3"/><rect x="136" y="582" width="1" height="3"/><rect x="139" y="582" width="1" height="3"/><rect x="142" y="582" width="1" height="3"/><rect x="146" y="582" width="1" height="3"/><rect x="149" y="582" width="1" height="3"/><rect x="153" y="582" width="1" height="3"/><rect x="156" y="582" width="1" height="3"/><rect x="159" y="582" width="1" height="3"/><rect x="163" y="582" width="1" height="3"/><rect x="166" y="582" width="1" height="3"/><rect x="170" y="582" width="1" height="3"/><rect x="173" y="582" width="1" height="3"/><rect x="177" y="582" width="1" height="3"/><rect x="180" y="582" width="1" height="3"/><rect x="183" y="582" width="1" height="3"/><rect x="187" y="582" width="1" height="3"/><rect x="190" y="582" width="1" height="3"/><rect x="194" y="582" width="1" height="3"/><rect x="197" y="582" width="1" height="3"/><rect x="200" y="582" width="1" height="3"/><rect x="204" y="582" width="1" height="3"/><rect x="207" y="582" width="1" height="3"/><rect x="211" y="582" width="1" height="3"/><rect x="214" y="582" width="1" height="3"/><rect x="218" y="582" width="1" height="3"/><rect x="221" y="582" width="1" height="3"/><rect x="224" y="582" width="1" height="3"/><rect x="228" y="582" width="1" height="3"/><rect x="231" y="582" width="1" height="3"/><rect x="235" y="582" width="1" height="3"/><rect x="238" y="582" width="1" height="3"/><rect x="241" y="582" width="1" height="3"/><rect x="245" y="582" width="1" height="3"/><rect x="248" y="582" width="1" height="3"/><rect x="252" y="582" width="1" height="3"/><rect x="255" y="582" width="1" height="3"/><rect x="258" y="582" width="1" height="3"/><rect x="262" y="582" width="1" height="3"/><rect x="265" y="582" width="1" height="3"/><rect x="269" y="582" width="1" height="3"/><rect x="272" y="582" width="1" height="3"/><rect x="276" y="582" width="1" height="3"/><rect x="279" y="582" width="1" height="3"/><rect x="282" y="582" width="1" height="3"/><rect x="286" y="582" width="1" height="3"/><rect x="289" y="582" width="1" height="3"/><rect x="293" y="582" width="1" height="3"/><rect x="296" y="582" width="1" height="3"/><rect x="299" y="582" width="1" height="3"/><rect x="303" y="582" width="1" height="3"/><rect x="306" y="582" width="1" height="3"/><rect x="310" y="582" width="1" height="3"/><rect x="313" y="582" width="1" height="3"/><rect x="316" y="582" width="1" height="3"/><rect x="320" y="582" width="1" height="3"/><rect x="323" y="582" width="1" height="3"/><rect x="327" y="582" width="1" height="3"/><rect x="330" y="582" width="1" height="3"/><rect x="334" y="582" width="1" height="3"/><rect x="337" y="582" width="1" height="3"/><rect x="340" y="582" width="1" height="3"/><rect x="344" y="582" width="1" height="3"/><rect x="347" y="582" width="1" height="3"/><rect x="351" y="582" width="1" height="3"/><rect x="354" y="582" width="1" height="3"/><rect x="357" y="582" width="1" height="3"/><rect x="361" y="582" width="1" height="3"/><rect x="364" y="582" width="1" height="3"/><rect x="368" y="582" width="1" height="3"/><rect x="371" y="582" width="1" height="3"/><rect x="375" y="582" width="1" height="3"/><rect x="378" y="582" width="1" height="3"/><rect x="381" y="582" width="1" height="3"/><rect x="385" y="582" width="1" height="3"/><rect x="388" y="582" width="1" height="3"/><rect x="392" y="582" width="1" height="3"/><rect x="395" y="582" width="1" height="3"/><rect x="398" y="582" width="1" height="3"/><rect x="402" y="582" width="1" height="3"/><rect x="405" y="582" width="1" height="3"/><rect x="409" y="582" width="1" height="3"/><rect x="412" y="582" width="1" height="3"/><rect x="415" y="582" width="1" height="3"/><rect x="419" y="582" width="1" height="3"/><rect x="422" y="582" width="1" height="3"/><rect x="426" y="582" width="1" height="3"/><rect x="429" y="582" width="1" height="3"/><rect x="433" y="582" width="1" height="3"/><rect x="436" y="582" width="1" height="3"/><rect x="439" y="582" width="1" height="3"/><rect x="443" y="582" width="1" height="3"/><rect x="446" y="582" width="1" height="3"/><rect x="450" y="582" width="1" height="3"/><rect x="453" y="582" width="1" height="3"/><rect x="456" y="582" width="1" height="3"/><rect x="460" y="582" width="1" height="3"/><rect x="463" y="582" width="1" height="3"/><rect x="467" y="582" width="1" height="3"/><rect x="470" y="582" width="1" height="3"/><rect x="473" y="582" width="1" height="3"/><rect x="477" y="582" width="1" height="3"/><rect x="480" y="582" width="1" height="3"/><rect x="484" y="582" width="1" height="3"/><rect x="487" y="582" width="1" height="3"/><rect x="491" y="582" width="1" height="3"/><rect x="494" y="582" width="1" height="3"/><rect x="497" y="582" width="1" height="3"/><rect x="501" y="582" width="1" height="3"/><rect x="504" y="582" width="1" height="3"/><rect x="508" y="582" width="1" height="3"/><rect x="511" y="582" width="1" height="3"/><rect x="514" y="582" width="1" height="3"/><rect x="518" y="582" width="1" height="3"/><rect x="521" y="582" width="1" height="3"/><rect x="525" y="582" width="1" height="3"/><rect x="528" y="582" width="1" height="3"/><rect x="532" y="582" width="1" height="3"/><rect x="535" y="582" width="1" height="3"/><rect x="538" y="582" width="1" height="3"/><rect x="542" y="582" width="1" height="3"/><rect x="545" y="582" width="1" height="3"/><rect x="549" y="582" width="1" height="3"/><rect x="552" y="582" width="1" height="3"/><rect x="555" y="582" width="1" height="3"/><rect x="559" y="582" width="1" height="3"/><rect x="562" y="582" width="1" height="3"/><rect x="566" y="582" width="1" height="3"/><rect x="569" y="582" width="1" height="3"/><rect x="572" y="582" width="1" height="3"/><rect x="576" y="582" width="1" height="3"/><rect x="579" y="582" width="1" height="3"/><rect x="583" y="582" width="1" height="3"/><rect x="586" y="582" width="1" height="3"/><rect x="590" y="582" width="1" height="3"/><rect x="593" y="582" width="1" height="3"/><rect x="596" y="582" width="1" height="3"/><rect x="600" y="582" width="1" height="3"/><rect x="603" y="582" width="1" height="3"/><rect x="607" y="582" width="1" height="3"/><rect x="610" y="582" width="1" height="3"/><rect x="613" y="582" width="1" height="3"/><rect x="617" y="582" width="1" height="3"/><rect x="620" y="582" width="1" height="3"/><rect x="624" y="582" width="1" height="3"/><rect x="627" y="582" width="1" height="3"/><rect x="630" y="582" width="1" height="3"/><rect x="634" y="582" width="1" height="3"/><rect x="637" y="582" width="1" height="3"/><rect x="641" y="582" width="1" height="3"/><rect x="644" y="582" width="1" height="3"/><rect x="648" y="582" width="1" height="3"/><rect x="651" y="582" width="1" height="3"/><rect x="654" y="582" width="1" height="3"/><rect x="658" y="582" width="1" height="3"/><rect x="661" y="582" width="1" height="3"/><rect x="665" y="582" width="1" height="3"/><rect x="668" y="582" width="1" height="3"/><rect x="671" y="582" width="1" height="3"/><rect x="675" y="582" width="1" height="3"/><rect x="678" y="582" width="1" height="3"/><rect x="682" y="582" width="1" height="3"/><rect x="685" y="582" width="1" height="3"/><rect x="689" y="582" width="1" height="3"/><rect x="692" y="582" width="1" height="3"/><rect x="695" y="582" width="1" height="3"/><rect x="699" y="582" width="1" height="3"/><rect x="702" y="582" width="1" height="3"/><rect x="706" y="582" width="1" height="3"/><rect x="709" y="582" width="1" height="3"/><rect x="712" y="582" width="1" height="3"/><rect x="716" y="582" width="1" height="3"/><rect x="719" y="582" width="1" height="3"/><rect x="723" y="582" width="1" height="3"/><rect x="726" y="582" width="1" height="3"/><rect x="729" y="582" width="1" height="3"/><rect x="733" y="582" width="1" height="3"/><rect x="736" y="582" width="1" height="3"/><rect x="740" y="582" width="1" height="3"/><rect x="743" y="582" width="1" height="3"/><rect x="747" y="582" width="1" height="3"/><rect x="750" y="582" width="1" height="3"/><rect x="753" y="582" width="1" height="3"/><rect x="757" y="582" width="1" height="3"/><rect x="760" y="582" width="1" height="3"/><rect x="764" y="582" width="1" height="3"/><rect x="767" y="582" width="1" height="3"/><rect x="770" y="582" width="1" height="3"/><rect x="774" y="582" width="1" height="3"/><rect x="777" y="582" width="1" height="3"/><rect x="781" y="582" width="1" height="3"/><rect x="784" y="582" width="1" height="3"/><rect x="787" y="582" width="1" height="3"/><rect x="791" y="582" width="1" height="3"/><rect x="794" y="582" width="1" height="3"/><rect x="798" y="582" width="1" height="3"/><rect x="801" y="582" width="1" height="3"/><rect x="805" y="582" width="1" height="3"/><rect x="808" y="582" width="1" height="3"/><rect x="811" y="582" width="1" height="3"/><rect x="815" y="582" width="1" height="3"/><rect x="818" y="582" width="1" height="3"/><rect x="822" y="582" width="1" height="3"/><rect x="825" y="582" width="1" height="3"/><rect x="828" y="582" width="1" height="3"/><rect x="832" y="582" width="1" height="3"/><rect x="835" y="582" width="1" height="3"/><rect x="839" y="582" width="1" height="3"/><rect x="842" y="582" width="1" height="3"/><rect x="846" y="582" width="1" height="3"/><rect x="849" y="582" width="1" height="3"/><rect x="852" y="582" width="1" height="3"/><rect x="856" y="582" width="1" height="3"/><rect x="859" y="582" width="1" height="3"/><rect x="863" y="582" width="1" height="3"/><rect x="866" y="582" width="1" height="3"/><rect x="869" y="582" width="1" height="3"/><rect x="873" y="582" width="1" height="3"/><rect x="876" y="582" width="1" height="3"/><rect x="880" y="582" width="1" height="3"/><rect x="883" y="582" width="1" height="3"/><rect x="886" y="582" width="1" height="3"/><rect x="890" y="582" width="1" height="3"/><rect x="893" y="582" width="1" height="3"/><rect x="897" y="582" width="1" height="3"/><rect x="900" y="582" width="1" height="3"/><rect x="904" y="582" width="1" height="3"/><rect x="907" y="582" width="1" height="3"/><rect x="910" y="582" width="1" height="3"/><rect x="914" y="582" width="1" height="3"/><rect x="917" y="582" width="1" height="3"/><rect x="921" y="582" width="1" height="3"/><rect x="924" y="582" width="1" height="3"/><rect x="927" y="582" width="1" height="3"/><rect x="931" y="582" width="1" height="3"/><rect x="934" y="582" width="1" height="3"/><rect x="938" y="582" width="1" height="3"/><rect x="941" y="582" width="1" height="3"/><rect x="944" y="582" width="1" height="3"/><rect x="948" y="582" width="1" height="3"/><rect x="951" y="582" width="1" height="3"/><rect x="955" y="582" width="1" height="3"/><rect x="958" y="582" width="1" height="3"/><rect x="962" y="582" width="1" height="3"/><rect x="965" y="582" width="1" height="3"/><rect x="968" y="582" width="1" height="3"/><rect x="972" y="582" width="1" height="3"/><rect x="975" y="582" width="1" height="3"/><rect x="979" y="582" width="1" height="3"/><rect x="982" y="582" width="1" height="3"/><rect x="985" y="582" width="1" height="3"/><rect x="989" y="582" width="1" height="3"/><rect x="992" y="582" width="1" height="3"/><rect x="996" y="582" width="1" height="3"/><rect x="999" y="582" width="1" height="3"/><rect x="1003" y="582" width="1" height="3"/></g>
</g>
<rect x="81.5" y="321.5" width="283" height="89" fill="#fff" stroke="#eeeadb" stroke-width="1"/>
<rect x="81.5" y="424.5" width="279" height="67" fill="#fff" stroke="#eeeadb" stroke-width="1"/>
<g fill="none" stroke="#861a20" stroke-width="1" shape-rendering="crispEdges"><rect x="78.5" y="26.5" width="944" height="387"/><rect x="78.5" y="421.5" width="944" height="159"/></g>
<g fill="#861a20" shape-rendering="crispEdges"><rect x="153" y="411" width="1" height="4"/><rect x="197" y="411" width="1" height="4"/><rect x="276" y="411" width="1" height="4"/><rect x="340" y="411" width="1" height="4"/><rect x="412" y="411" width="1" height="4"/><rect x="484" y="411" width="1" height="4"/><rect x="552" y="411" width="1" height="4"/><rect x="630" y="411" width="1" height="4"/><rect x="695" y="411" width="1" height="4"/><rect x="764" y="411" width="1" height="4"/><rect x="839" y="411" width="1" height="4"/><rect x="914" y="411" width="1" height="4"/><rect x="968" y="411" width="1" height="4"/></g>
<text x="4.99" y="20" font-size="17.7" fill="#14143c" font-weight="700" textLength="81.41" lengthAdjust="spacingAndGlyphs" style="font-family:'Liberation Serif',serif">2017/02/16</text><text x="104.37" y="20" font-size="16" fill="#14143c" textLength="32.85" lengthAdjust="spacingAndGlyphs" style="font-family:'Liberation Serif',serif">8403</text><text x="141.00" y="20" font-size="16" fill="#14143c" style="font-family:'Liberation Serif','Noto Sans CJK TC',sans-serif">盛弘</text><text x="270.00" y="20" font-size="16" fill="#14143c" style="font-family:'Liberation Serif','Noto Sans CJK TC',sans-serif">開</text><text x="291.94" y="20" font-size="18" fill="#cc0000" font-weight="700" textLength="30.35" lengthAdjust="spacingAndGlyphs" style="font-family:'Liberation Serif',serif">36.1</text><text x="376.20" y="20" font-size="16" fill="#14143c" style="font-family:'Liberation Serif','Noto Sans CJK TC',sans-serif">高</text><text x="398.00" y="20" font-size="18" fill="#cc0000" font-weight="700" textLength="31.61" lengthAdjust="spacingAndGlyphs" style="font-family:'Liberation Serif',serif">38.8</text><text x="481.80" y="20" font-size="16" fill="#14143c" style="font-family:'Liberation Serif','Noto Sans CJK TC',sans-serif">低</text><text x="503.72" y="20" font-size="18" fill="#cc0000" font-weight="700" textLength="30.87" lengthAdjust="spacingAndGlyphs" style="font-family:'Liberation Serif',serif">36.1</text><text x="585.80" y="20" font-size="16" fill="#14143c" style="font-family:'Liberation Serif','Noto Sans CJK TC',sans-serif">收</text><text x="609.10" y="20" font-size="18" fill="#cc0000" font-weight="700" textLength="31.61" lengthAdjust="spacingAndGlyphs" style="font-family:'Liberation Serif',serif">38.8</text><text x="693.16" y="20.5" font-size="17" fill="#cc0000" textLength="17.68" lengthAdjust="spacingAndGlyphs" style="font-family:'Liberation Serif','Noto Sans CJK TC',sans-serif">△</text><text x="711.00" y="20" font-size="18" fill="#cc0000" font-weight="700" textLength="22.50" lengthAdjust="spacingAndGlyphs" style="font-family:'Liberation Serif',serif">3.5</text><text x="779.19" y="20" font-size="16" fill="#14143c" textLength="52.61" lengthAdjust="spacingAndGlyphs" style="font-family:'Liberation Serif',serif">(9.92%)</text><text x="858.80" y="20" font-size="16" fill="#14143c" style="font-family:'Liberation Serif','Noto Sans CJK TC',sans-serif">量</text><text x="880.92" y="20" font-size="16" fill="#14143c" textLength="31.25" lengthAdjust="spacingAndGlyphs" style="font-family:'Liberation Serif',serif">2221</text><text x="914.57" y="21.5" font-size="17" fill="#14143c" textLength="13.36" lengthAdjust="spacingAndGlyphs" stroke="#14143c" stroke-width="0.7" style="font-family:'Noto Serif CJK SC',serif">↑</text><text x="930.00" y="20" font-size="16" fill="#14143c" style="font-family:'Liberation Serif','Noto Sans CJK TC',sans-serif">張</text><text x="991.50" y="20" font-size="16" fill="#14143c" style="font-family:'Liberation Serif','Noto Sans CJK TC',sans-serif">日線</text><text x="54.02" y="47.0" font-size="20.5" fill="#14143c" textLength="17.98" lengthAdjust="spacingAndGlyphs" style="font-family:'Liberation Serif',serif">51</text><text x="54.02" y="86.25" font-size="20.5" fill="#14143c" textLength="17.98" lengthAdjust="spacingAndGlyphs" style="font-family:'Liberation Serif',serif">49</text><text x="54.02" y="125.5" font-size="20.5" fill="#14143c" textLength="17.98" lengthAdjust="spacingAndGlyphs" style="font-family:'Liberation Serif',serif">47</text><text x="54.02" y="164.75" font-size="20.5" fill="#14143c" textLength="17.98" lengthAdjust="spacingAndGlyphs" style="font-family:'Liberation Serif',serif">45</text><text x="54.02" y="204.0" font-size="20.5" fill="#14143c" textLength="17.98" lengthAdjust="spacingAndGlyphs" style="font-family:'Liberation Serif',serif">43</text><text x="54.02" y="243.25" font-size="20.5" fill="#14143c" textLength="17.98" lengthAdjust="spacingAndGlyphs" style="font-family:'Liberation Serif',serif">41</text><text x="54.02" y="282.5" font-size="20.5" fill="#14143c" textLength="17.98" lengthAdjust="spacingAndGlyphs" style="font-family:'Liberation Serif',serif">39</text><text x="54.02" y="321.75" font-size="20.5" fill="#14143c" textLength="17.98" lengthAdjust="spacingAndGlyphs" style="font-family:'Liberation Serif',serif">37</text><text x="54.02" y="361.0" font-size="20.5" fill="#14143c" textLength="17.98" lengthAdjust="spacingAndGlyphs" style="font-family:'Liberation Serif',serif">35</text><text x="36.04" y="436.5" font-size="20.5" fill="#14143c" textLength="35.96" lengthAdjust="spacingAndGlyphs" style="font-family:'Liberation Serif',serif">6000</text><text x="36.04" y="485.5" font-size="20.5" fill="#14143c" textLength="35.96" lengthAdjust="spacingAndGlyphs" style="font-family:'Liberation Serif',serif">4000</text><text x="36.04" y="534.5" font-size="20.5" fill="#14143c" textLength="35.96" lengthAdjust="spacingAndGlyphs" style="font-family:'Liberation Serif',serif">2000</text><text x="143.74" y="608" font-size="20.5" fill="#14143c" textLength="18.86" lengthAdjust="spacingAndGlyphs" style="font-family:'Liberation Serif',serif">02</text><text x="188.11" y="608" font-size="20.5" fill="#14143c" textLength="18.86" lengthAdjust="spacingAndGlyphs" style="font-family:'Liberation Serif',serif">03</text><text x="266.61" y="608" font-size="20.5" fill="#14143c" textLength="18.86" lengthAdjust="spacingAndGlyphs" style="font-family:'Liberation Serif',serif">04</text><text x="331.46" y="608" font-size="20.5" fill="#14143c" textLength="18.86" lengthAdjust="spacingAndGlyphs" style="font-family:'Liberation Serif',serif">05</text><text x="403.13" y="608" font-size="20.5" fill="#14143c" textLength="18.86" lengthAdjust="spacingAndGlyphs" style="font-family:'Liberation Serif',serif">06</text><text x="474.80" y="608" font-size="20.5" fill="#14143c" textLength="18.86" lengthAdjust="spacingAndGlyphs" style="font-family:'Liberation Serif',serif">07</text><text x="543.06" y="608" font-size="20.5" fill="#14143c" textLength="18.86" lengthAdjust="spacingAndGlyphs" style="font-family:'Liberation Serif',serif">08</text><text x="621.56" y="608" font-size="20.5" fill="#14143c" textLength="18.86" lengthAdjust="spacingAndGlyphs" style="font-family:'Liberation Serif',serif">09</text><text x="686.41" y="608" font-size="20.5" fill="#14143c" textLength="18.86" lengthAdjust="spacingAndGlyphs" style="font-family:'Liberation Serif',serif">10</text><text x="755.01" y="608" font-size="20.5" fill="#14143c" textLength="18.17" lengthAdjust="spacingAndGlyphs" style="font-family:'Liberation Serif',serif">11</text><text x="829.76" y="608" font-size="20.5" fill="#14143c" textLength="18.86" lengthAdjust="spacingAndGlyphs" style="font-family:'Liberation Serif',serif">12</text><text x="904.84" y="608" font-size="20.5" fill="#14143c" textLength="18.86" lengthAdjust="spacingAndGlyphs" style="font-family:'Liberation Serif',serif">01</text><text x="959.45" y="608" font-size="20.5" fill="#14143c" textLength="18.86" lengthAdjust="spacingAndGlyphs" style="font-family:'Liberation Serif',serif">02</text><text x="894.94" y="627" font-size="20.5" fill="#14143c" textLength="37.72" lengthAdjust="spacingAndGlyphs" style="font-family:'Liberation Serif',serif">2017</text><text x="85.08" y="340" font-size="20" fill="#1414b4" textLength="34.75" lengthAdjust="spacingAndGlyphs" style="font-family:'Liberation Serif',serif">M20</text><text x="85.08" y="362" font-size="20" fill="#e09a40" textLength="34.75" lengthAdjust="spacingAndGlyphs" style="font-family:'Liberation Serif',serif">M60</text><text x="85.79" y="384" font-size="20" fill="#c81414" textLength="43.43" lengthAdjust="spacingAndGlyphs" style="font-family:'Liberation Serif',serif">M120</text><text x="85.79" y="406" font-size="20" fill="#5a145a" textLength="43.43" lengthAdjust="spacingAndGlyphs" style="font-family:'Liberation Serif',serif">M240</text><text x="305.05" y="340" font-size="20" fill="#1414b4" textLength="29.85" lengthAdjust="spacingAndGlyphs" style="font-family:'Liberation Serif',serif">34.7</text><text x="338.40" y="341.5" font-size="20" fill="#1414b4" textLength="14.00" lengthAdjust="spacingAndGlyphs" stroke="#1414b4" stroke-width="0.7" style="font-family:'Noto Serif CJK SC',serif">↑</text><text x="305.01" y="362" font-size="20" fill="#e09a40" textLength="39.87" lengthAdjust="spacingAndGlyphs" style="font-family:'Liberation Serif',serif">34.59</text><text x="347.50" y="363.5" font-size="20" fill="#e09a40" textLength="14.00" lengthAdjust="spacingAndGlyphs" stroke="#e09a40" stroke-width="0.7" style="font-family:'Noto Serif CJK SC',serif">↑</text><text x="304.72" y="384" font-size="20" fill="#c81414" textLength="30.76" lengthAdjust="spacingAndGlyphs" style="font-family:'Liberation Serif',serif">35.3</text><text x="304.71" y="406" font-size="20" fill="#5a145a" textLength="40.19" lengthAdjust="spacingAndGlyphs" style="font-family:'Liberation Serif',serif">39.15</text><text x="347.25" y="407.5" font-size="20" fill="#5a145a" textLength="13.00" lengthAdjust="spacingAndGlyphs" stroke="#5a145a" stroke-width="0.7" style="font-family:'Noto Serif CJK SC',serif">↓</text><text x="86.10" y="443" font-size="20" fill="#14143c" textLength="37.10" lengthAdjust="spacingAndGlyphs" style="font-family:'Liberation Serif',serif">VOL</text><text x="86.03" y="465" font-size="20" fill="#c81414" textLength="8.75" lengthAdjust="spacingAndGlyphs" style="font-family:'Liberation Serif',serif">5</text><text x="84.97" y="487" font-size="20" fill="#14148c" textLength="19.29" lengthAdjust="spacingAndGlyphs" style="font-family:'Liberation Serif',serif">10</text><text x="304.74" y="443" font-size="20" fill="#14143c" textLength="34.42" lengthAdjust="spacingAndGlyphs" style="font-family:'Liberation Serif',serif">2221</text><text x="343.10" y="444.5" font-size="20" fill="#14143c" textLength="14.40" lengthAdjust="spacingAndGlyphs" stroke="#14143c" stroke-width="0.7" style="font-family:'Noto Serif CJK SC',serif">↑</text><text x="304.09" y="465" font-size="20" fill="#c81414" textLength="27.43" lengthAdjust="spacingAndGlyphs" style="font-family:'Liberation Serif',serif">730</text><text x="334.20" y="466.5" font-size="20" fill="#c81414" textLength="14.40" lengthAdjust="spacingAndGlyphs" stroke="#c81414" stroke-width="0.7" style="font-family:'Noto Serif CJK SC',serif">↑</text><text x="305.00" y="487" font-size="20" fill="#14148c" textLength="25.60" lengthAdjust="spacingAndGlyphs" style="font-family:'Liberation Serif',serif">467</text><text x="334.20" y="488.5" font-size="20" fill="#14148c" textLength="14.40" lengthAdjust="spacingAndGlyphs" stroke="#14148c" stroke-width="0.7" style="font-family:'Noto Serif CJK SC',serif">↑</text>
</svg></body></html>
